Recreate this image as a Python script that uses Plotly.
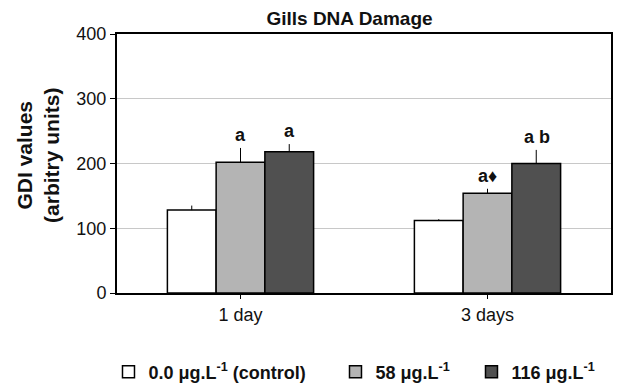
import plotly.graph_objects as go

categories = ["1 day", "3 days"]
series_names = ["0.0 μg.L<sup>-1</sup> (control)", "58 μg.L<sup>-1</sup>", "116 μg.L<sup>-1</sup>"]
control = [128, 112]
low = [202, 154]
high = [218, 200]
control_err = [7, 2]
low_err = [22, 7]
high_err = [12, 21]
labels_low = ["a", "a\u2666"]
labels_high = ["a", "a b"]

colors = ["#ffffff", "#b4b4b4", "#505050"]
FONT = "Arial, Liberation Sans, sans-serif"

fig = go.Figure()
series = [control, low, high]
errs = [control_err, low_err, high_err]
legw = [182, 91, None]
for name, vals, err, col, lw in zip(series_names, series, errs, colors, legw):
    kw = {}
    if lw:
        kw["legendwidth"] = lw
    fig.add_trace(go.Bar(
        x=categories, y=vals, name=name,
        marker=dict(color=col, line=dict(color="#000000", width=1.5)),
        error_y=dict(type="data", symmetric=False, array=err,
                     arrayminus=[0] * len(err), color="#000000",
                     thickness=1, width=0),
        **kw,
    ))

# significance labels (offset groups: bar index 1 and 2 of 3)
for labels, vals, err, idx in [(labels_low, low, low_err, 1), (labels_high, high, high_err, 2)]:
    for i, (lab, v, e) in enumerate(zip(labels, vals, err)):
        fig.add_annotation(
            x=i, y=v + e, xref="x", yref="y",
            text="<b>%s</b>" % lab, showarrow=False,
            xshift=(idx - 1) * 49, yshift=13, yanchor="middle",
            font=dict(family=FONT, size=18, color="#111111"),
        )

fig.add_annotation(
    x=-79 / 493.5, y=(293 - 155) / 259, xref="paper", yref="paper",
    text="<b>GDI values<br>(arbitry units)</b>", showarrow=False,
    textangle=-90, xanchor="center", yanchor="middle",
    font=dict(family=FONT, size=21, color="#111111"),
)

fig.update_layout(
    width=627, height=389,
    margin=dict(l=117, r=16, t=34, b=96, autoexpand=False),
    paper_bgcolor="white", plot_bgcolor="white",
    barmode="group", bargap=0.408, bargroupgap=0,
    title=dict(text="<b>Gills DNA Damage</b>", x=349.5 / 627, xref="container",
               xanchor="center", y=1 - 18 / 389, yref="container", yanchor="middle",
               font=dict(family=FONT, size=19, color="#111111")),
    font=dict(family=FONT, color="#111111"),
    showlegend=True,
    legend=dict(orientation="h", xref="paper", yref="paper",
                x=(109 - 117.5) / 493.5, xanchor="left",
                y=(293 - 372) / 259, yanchor="middle",
                font=dict(family=FONT, size=18, color="#111111", weight="bold"),
                bgcolor="rgba(0,0,0,0)", traceorder="normal"),
    xaxis=dict(type="category", showline=True, linewidth=2, linecolor="#000000",
               mirror=True, ticks="outside", ticklen=4, tickcolor="#000000",
               tickfont=dict(family=FONT, size=18, color="#111111"),
               showgrid=False),
    yaxis=dict(range=[0, 400], dtick=100, showline=True, linewidth=2,
               linecolor="#000000", mirror=True, ticks="outside", ticklen=5,
               tickcolor="#000000", showgrid=True, gridcolor="#c8c8c8",
               gridwidth=1, zeroline=False,
               tickfont=dict(family=FONT, size=18, color="#111111")),
)

fig.write_html("out.html")
